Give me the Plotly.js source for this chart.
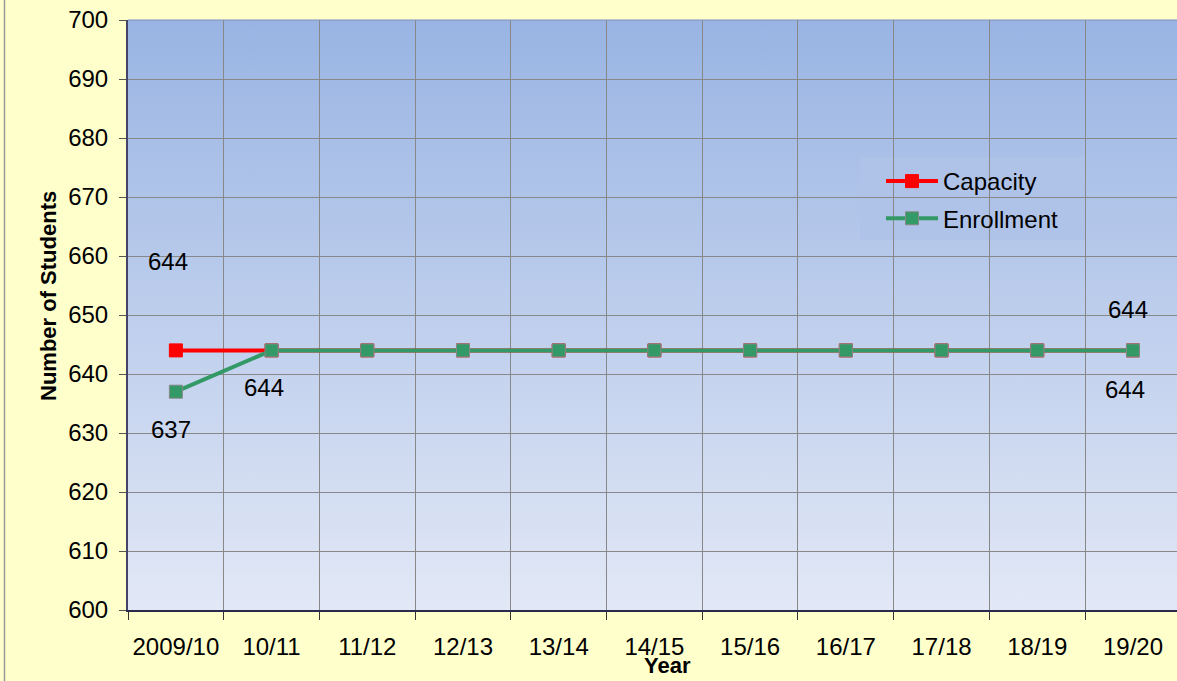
<!DOCTYPE html>
<html>
<head>
<meta charset="utf-8">
<script src="https://cdn.plot.ly/plotly-3.0.1.min.js"></script>
<style>html,body{margin:0;padding:0;background:#FFFFCC;}#chart{width:1177px;height:681px;}</style>
</head>
<body>
<div id="chart"></div>
<script>
// ---- data ----
const years = ["2009/10","10/11","11/12","12/13","13/14","14/15","15/16","16/17","17/18","18/19","19/20"];
const capacity = [644,644,644,644,644,644,644,644,644,644,644];
const enrollment = [637,644,644,644,644,644,644,644,644,644,644];
const yTicks = [600,610,620,630,640,650,660,670,680,690,700];
const xTitle = 'Year';
const yTitle = 'Number of Students';

// ---- layout helpers ----
const W = 1177, H = 681, L = 128, R = 0, T = 20, B = 71;
const pw = W - L - R, ph = H - T - B;
const px = v => (v - L) / pw;          // pixel x -> paper
const py = v => (H - B - v) / ph;      // pixel y -> paper
const FONT = 'Liberation Sans, Arial, sans-serif';

const grad = 'data:image/svg+xml;utf8,' + encodeURIComponent(
  '<svg xmlns="http://www.w3.org/2000/svg" width="100" height="100" preserveAspectRatio="none">' +
  '<defs><linearGradient id="g" x1="0" y1="0" x2="0" y2="1">' +
  '<stop offset="0" stop-color="#99B4E3"/><stop offset="1" stop-color="#E2E8F6"/>' +
  '</linearGradient></defs><rect width="100" height="100" fill="url(#g)"/></svg>');

// data label placement (index into series, pixel shifts)
const capLabels = [{i:0, dx:-8, dy:89}, {i:10, dx:-5, dy:41}];
const enrLabels = [{i:0, dx:-5, dy:-38}, {i:1, dx:-8, dy:-37}, {i:10, dx:-8, dy:-39}];

const lblFont = {family:FONT, size:24, color:'#000'};
const annotations = [];
capLabels.forEach(o => annotations.push({x: years[o.i], y: capacity[o.i], xref:'x', yref:'y', text: String(capacity[o.i]), showarrow:false, xshift:o.dx, yshift:o.dy, font:lblFont}));
enrLabels.forEach(o => annotations.push({x: years[o.i], y: enrollment[o.i], xref:'x', yref:'y', text: String(enrollment[o.i]), showarrow:false, xshift:o.dx, yshift:o.dy, font:lblFont}));
annotations.push({xref:'paper', yref:'paper', x:px(667), y:py(665), xanchor:'center', yanchor:'middle', showarrow:false,
  text:'<b>'+xTitle+'</b>', font:{family:FONT, size:22, color:'#000'}});
annotations.push({xref:'paper', yref:'paper', x:px(48), y:py(296), xanchor:'center', yanchor:'middle', showarrow:false, textangle:-90,
  text:'<b>'+yTitle+'</b>', font:{family:FONT, size:22, color:'#000'}});

const traces = [
  {x: years, y: capacity, name: 'Capacity', type:'scatter', mode:'lines+markers', legendgroup:'a',
   line:{color:'#FF0000', width:4}, marker:{symbol:'square', size:13, color:'#FF0000', line:{color:'#FF0000', width:1}}},
  {x: years, y: enrollment, name: 'Enrollment', type:'scatter', mode:'lines+markers', legendgroup:'b',
   line:{color:'#339966', width:4}, marker:{symbol:'square', size:13, color:'#339966', line:{color:'#888888', width:1}}}
];

const layout = {
  width: W, height: H,
  margin: {l:L, r:R, t:T, b:B, pad:0},
  paper_bgcolor: '#FFFFCC',
  plot_bgcolor: 'rgba(0,0,0,0)',
  font: {family:FONT, size:24, color:'#000'},
  showlegend: true,
  legend: {x: px(881), y: py(159), xanchor:'left', yanchor:'top', bgcolor:'rgba(0,0,0,0)',
           font:{size:24}, itemwidth:52, traceorder:'grouped', tracegroupgap:3, borderwidth:0},
  xaxis: {type:'category', range:[-0.5, 10.46], tickson:'boundaries', ticks:'outside', ticklen:8, tickcolor:'#333',
          showgrid:true, gridcolor:'#888888', gridwidth:1, showline:true, linecolor:'#2A2A4A', linewidth:2,
          tickfont:{size:24}, tickangle:0, ticklabelstandoff:14, fixedrange:true},
  yaxis: {range:[600,700], tickvals: yTicks, ticks:'outside', ticklen:7, tickcolor:'#555',
          showgrid:true, gridcolor:'#888888', gridwidth:1, showline:true, linecolor:'#444466', linewidth:2,
          zeroline:false, tickfont:{size:24}, ticklabelstandoff:6, automargin:false},
  images: [{source: grad, xref:'paper', yref:'paper', x:0, y:1, sizex:1, sizey:1, sizing:'stretch', layer:'below'}],
  shapes: [
    {type:'line', xref:'paper', yref:'paper', x0:px(4.5), x1:px(4.5), y0:py(H), y1:py(0), line:{color:'#999999', width:1.5}},
    {type:'line', xref:'paper', yref:'paper', x0:0, x1:1, y0:1, y1:1, line:{color:'#7F8FC0', width:1}},
    {type:'rect', xref:'paper', yref:'paper', x0:px(860), x1:px(1085), y0:py(240), y1:py(157), layer:'between',
     fillcolor:'#AFC3E9', line:{width:0}}
  ],
  annotations: annotations
};

Plotly.newPlot('chart', traces, layout, {displayModeBar:false, staticPlot:true});
</script>
</body>
</html>
